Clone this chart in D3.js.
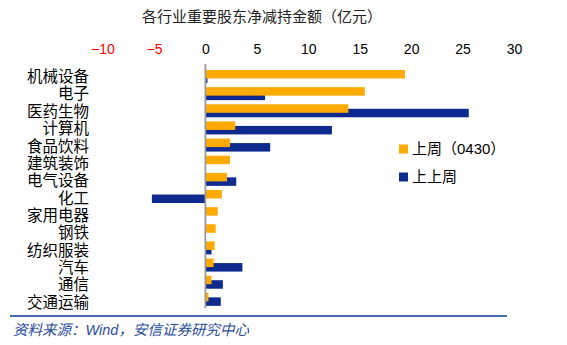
<!DOCTYPE html>
<html><head><meta charset="utf-8">
<script src="https://cdn.jsdelivr.net/npm/d3@7"></script>
<style>
html,body{margin:0;padding:0;background:#fff;}
svg{display:block;}
</style></head>
<body>
<svg id="chart" width="567" height="345"></svg>
<script>
const categories = ["机械设备","电子","医药生物","计算机","食品饮料","建筑装饰","电气设备","化工","家用电器","钢铁","纺织服装","汽车","通信","交通运输"];
const lastWeek = [19.4, 15.5, 13.9, 2.9, 2.4, 2.4, 2.1, 1.6, 1.2, 1.0, 0.9, 0.8, 0.6, 0.3];
const prevWeek = [0.2, 5.8, 25.6, 12.3, 6.3, 0, 3.0, -5.2, 0, 0, 0.6, 3.6, 1.7, 1.5];
const tickValues = [-10,-5,0,5,10,15,20,25,30];
const seriesNames = ["上周（0430）","上上周"];
const colors = ["#FFAA00","#0F2A8F"];

const cjk = "'Liberation Sans','Noto Sans CJK SC',sans-serif";
const svg = d3.select("#chart");

const x = d3.scaleLinear().domain([-10,30]).range([102.5,514]);
const y = d3.scaleBand().domain(categories).range([67,307]).paddingInner(0);

// title
svg.append("text").attr("x",262).attr("y",21.5).attr("text-anchor","middle")
  .style("font-family",cjk).style("font-size","15px").attr("fill","#222")
  .text("各行业重要股东净减持金额（亿元）");

// top axis
const axis = d3.axisTop(x).tickValues(tickValues).tickSize(0).tickPadding(0);
const ag = svg.append("g").attr("transform","translate(0,54)").call(axis);
ag.select(".domain").remove();
ag.selectAll("text").style("font-family","'Liberation Sans',Arial,sans-serif")
  .style("font-size","14px")
  .attr("fill", d => d < 0 ? "#FF0000" : "#000");

// bars: prev week (blue) first, then last week (yellow) on top
const bh = 8.5;
svg.append("g").selectAll("rect").data(categories).join("rect")
  .attr("x", (c,i) => x(Math.min(0, prevWeek[i])))
  .attr("width", (c,i) => Math.abs(x(prevWeek[i]) - x(0)))
  .attr("y", c => y(c) + 7.5)
  .attr("height", bh)
  .attr("fill", colors[1]);
svg.append("g").selectAll("rect").data(categories).join("rect")
  .attr("x", (c,i) => x(Math.min(0, lastWeek[i])))
  .attr("width", (c,i) => Math.abs(x(lastWeek[i]) - x(0)))
  .attr("y", c => y(c) + 3)
  .attr("height", bh)
  .attr("fill", colors[0]);

// zero line
svg.append("line").attr("x1",x(0)).attr("x2",x(0)).attr("y1",64).attr("y2",308)
  .attr("stroke","#9a9a9a").attr("stroke-width",1.8);

// category labels
svg.append("g").selectAll("text").data(categories).join("text")
  .attr("x", 89)
  .attr("y", (c,i) => y(c) + y.bandwidth()/2 + 1 + i*0.2)
  .attr("dy","0.36em")
  .attr("text-anchor","end")
  .style("font-family",cjk).style("font-size","15.5px").attr("fill","#000")
  .text(c => c);

// legend
const lg = svg.append("g");
seriesNames.forEach((n,i) => {
  const yy = 149 + i*28;
  lg.append("rect").attr("x",399).attr("y",yy-4.5).attr("width",9).attr("height",9).attr("fill",colors[i]);
  lg.append("text").attr("x",412).attr("y",yy).attr("dy","0.36em")
    .style("font-family",cjk).style("font-size","15px").attr("fill","#000").text(n);
});

// bottom rule and source
svg.append("line").attr("x1",10).attr("x2",507).attr("y1",316).attr("y2",316)
  .attr("stroke","#0A3A9A").attr("stroke-width",1.5);
svg.append("text").attr("x",13).attr("y",335)
  .style("font-family",cjk).style("font-size","14.5px").style("font-style","italic")
  .attr("fill","#2A4C9C").text("资料来源：Wind，安信证券研究中心");
</script>
</body></html>
